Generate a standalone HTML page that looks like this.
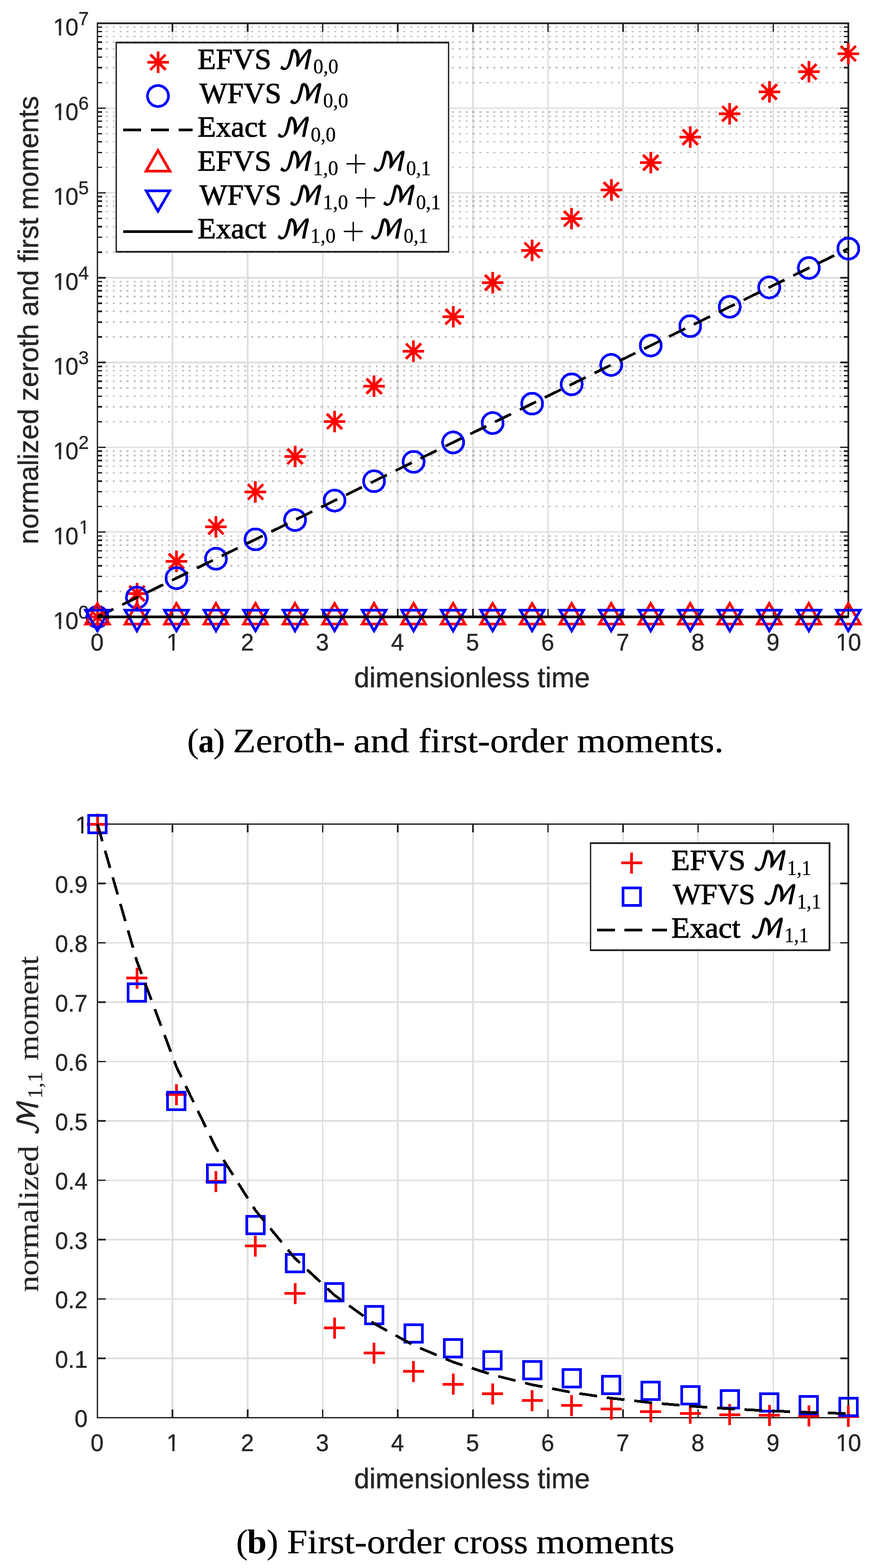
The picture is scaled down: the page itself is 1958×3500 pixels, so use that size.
<!DOCTYPE html>
<html lang="en"><head><meta charset="utf-8"><title>Moments: EFVS vs WFVS</title>
<style>html,body{margin:0;padding:0;background:#fff}body{width:1958px;height:3500px;overflow:hidden}svg{display:block}text{white-space:pre}.tk{font-family:'Liberation Sans', Arial, Helvetica, sans-serif;font-size:52.3px;fill:#262626;stroke:#262626;stroke-width:0.5px}.ex{font-family:'Liberation Sans', Arial, Helvetica, sans-serif;font-size:42px;fill:#262626;stroke:#262626;stroke-width:0.4px}.lb{font-family:'Liberation Sans', Arial, Helvetica, sans-serif;font-size:63px;fill:#262626;stroke:#262626;stroke-width:0.6px}.lg{font-family:'Liberation Serif', 'Times New Roman', Times, serif;font-size:65px;fill:#000;stroke:#000;stroke-width:1.2px}.sb{font-family:'Liberation Serif', 'Times New Roman', Times, serif;font-size:45.5px;fill:#000;stroke:#000;stroke-width:0.4px}.cm{font-family:'DejaVu Math TeX Gyre', 'DejaVu Sans', 'Liberation Serif', serif;fill:#000;stroke:#000;stroke-width:1.2;stroke-linejoin:round}.pl{font-family:'Liberation Serif', 'Times New Roman', Times, serif;fill:#000;stroke:#fff;stroke-width:1.6}.yl{font-family:'Liberation Serif', 'Times New Roman', Times, serif;font-size:63px;fill:#262626;stroke:#262626;stroke-width:0.3px}.ys{font-family:'Liberation Serif', 'Times New Roman', Times, serif;font-size:46.5px;fill:#262626;stroke:#262626;stroke-width:0.3px}.ym{font-family:'DejaVu Math TeX Gyre', 'DejaVu Sans', 'Liberation Serif', serif;fill:#262626;stroke:#262626;stroke-width:0.6;stroke-linejoin:round}.cp{font-family:'Liberation Serif', 'Times New Roman', Times, serif;font-size:77px;fill:#000;stroke:#000;stroke-width:0.4px}.cb{font-family:'Liberation Serif', 'Times New Roman', Times, serif;font-size:77px;font-weight:bold;fill:#000}</style></head><body>
<svg width="1958" height="3500" viewBox="0 0 1958 3500" shape-rendering="crispEdges" role="img" aria-label="Normalized moments versus dimensionless time">
<defs><clipPath id="c1" clipPathUnits="objectBoundingBox"><path d="M0 0H1V0.6H0.6170V0.83H0.4462V0.6H0Z"/></clipPath><clipPath id="c10" clipPathUnits="objectBoundingBox"><path d="M0 0H1V1H0.4955V0.6H0.3175V0.83H0.2298V0.6H0Z"/></clipPath></defs>
<rect width="1958" height="3500" fill="#fff"/>
<g stroke="rgba(38,38,38,0.15)" stroke-width="3.5" fill="none">
<path d="M217.5 52V1377M385.15 52V1377M552.8 52V1377M720.45 52V1377M888.1 52V1377M1055.75 52V1377M1223.4 52V1377M1391.05 52V1377M1558.7 52V1377M1726.35 52V1377M1894 52V1377M217.5 1187.71H1894M217.5 998.43H1894M217.5 809.14H1894M217.5 619.86H1894M217.5 430.57H1894M217.5 241.29H1894"/>
</g>
<g stroke="rgba(38,38,38,0.27)" stroke-width="3.5" fill="none" stroke-dasharray="4.8 10.652" stroke-dashoffset="12.35">
<path d="M217.5 1320.02H1894"/>
<path d="M217.5 1286.69H1894"/>
<path d="M217.5 1263.04H1894"/>
<path d="M217.5 1244.69H1894"/>
<path d="M217.5 1229.71H1894"/>
<path d="M217.5 1217.04H1894"/>
<path d="M217.5 1206.06H1894"/>
<path d="M217.5 1196.38H1894"/>
<path d="M217.5 1130.73H1894"/>
<path d="M217.5 1097.4H1894"/>
<path d="M217.5 1073.75H1894"/>
<path d="M217.5 1055.41H1894"/>
<path d="M217.5 1040.42H1894"/>
<path d="M217.5 1027.75H1894"/>
<path d="M217.5 1016.77H1894"/>
<path d="M217.5 1007.09H1894"/>
<path d="M217.5 941.45H1894"/>
<path d="M217.5 908.12H1894"/>
<path d="M217.5 884.47H1894"/>
<path d="M217.5 866.12H1894"/>
<path d="M217.5 851.14H1894"/>
<path d="M217.5 838.46H1894"/>
<path d="M217.5 827.49H1894"/>
<path d="M217.5 817.8H1894"/>
<path d="M217.5 752.16H1894"/>
<path d="M217.5 718.83H1894"/>
<path d="M217.5 695.18H1894"/>
<path d="M217.5 676.84H1894"/>
<path d="M217.5 661.85H1894"/>
<path d="M217.5 649.18H1894"/>
<path d="M217.5 638.2H1894"/>
<path d="M217.5 628.52H1894"/>
<path d="M217.5 562.88H1894"/>
<path d="M217.5 529.54H1894"/>
<path d="M217.5 505.9H1894"/>
<path d="M217.5 487.55H1894"/>
<path d="M217.5 472.56H1894"/>
<path d="M217.5 459.89H1894"/>
<path d="M217.5 448.92H1894"/>
<path d="M217.5 439.23H1894"/>
<path d="M217.5 373.59H1894"/>
<path d="M217.5 340.26H1894"/>
<path d="M217.5 316.61H1894"/>
<path d="M217.5 298.27H1894"/>
<path d="M217.5 283.28H1894"/>
<path d="M217.5 270.61H1894"/>
<path d="M217.5 259.63H1894"/>
<path d="M217.5 249.95H1894"/>
<path d="M217.5 184.31H1894"/>
<path d="M217.5 150.97H1894"/>
<path d="M217.5 127.32H1894"/>
<path d="M217.5 108.98H1894"/>
<path d="M217.5 93.99H1894"/>
<path d="M217.5 81.32H1894"/>
<path d="M217.5 70.34H1894"/>
<path d="M217.5 60.66H1894"/>
</g>
<g stroke="#262626" stroke-width="3.5" fill="none" stroke-linecap="butt">
<rect x="217.5" y="52" width="1676.5" height="1325"/>
<path d="M385.15 1377v-18.5M385.15 52v18.5M552.8 1377v-18.5M552.8 52v18.5M720.45 1377v-18.5M720.45 52v18.5M888.1 1377v-18.5M888.1 52v18.5M1055.75 1377v-18.5M1055.75 52v18.5M1223.4 1377v-18.5M1223.4 52v18.5M1391.05 1377v-18.5M1391.05 52v18.5M1558.7 1377v-18.5M1558.7 52v18.5M1726.35 1377v-18.5M1726.35 52v18.5M217.5 1187.71h18.5M1894 1187.71h-18.5M217.5 998.43h18.5M1894 998.43h-18.5M217.5 809.14h18.5M1894 809.14h-18.5M217.5 619.86h18.5M1894 619.86h-18.5M217.5 430.57h18.5M1894 430.57h-18.5M217.5 241.29h18.5M1894 241.29h-18.5M217.5 1320.02h10.4M1894 1320.02h-10.4M217.5 1286.69h10.4M1894 1286.69h-10.4M217.5 1263.04h10.4M1894 1263.04h-10.4M217.5 1244.69h10.4M1894 1244.69h-10.4M217.5 1229.71h10.4M1894 1229.71h-10.4M217.5 1217.04h10.4M1894 1217.04h-10.4M217.5 1206.06h10.4M1894 1206.06h-10.4M217.5 1196.38h10.4M1894 1196.38h-10.4M217.5 1130.73h10.4M1894 1130.73h-10.4M217.5 1097.4h10.4M1894 1097.4h-10.4M217.5 1073.75h10.4M1894 1073.75h-10.4M217.5 1055.41h10.4M1894 1055.41h-10.4M217.5 1040.42h10.4M1894 1040.42h-10.4M217.5 1027.75h10.4M1894 1027.75h-10.4M217.5 1016.77h10.4M1894 1016.77h-10.4M217.5 1007.09h10.4M1894 1007.09h-10.4M217.5 941.45h10.4M1894 941.45h-10.4M217.5 908.12h10.4M1894 908.12h-10.4M217.5 884.47h10.4M1894 884.47h-10.4M217.5 866.12h10.4M1894 866.12h-10.4M217.5 851.14h10.4M1894 851.14h-10.4M217.5 838.46h10.4M1894 838.46h-10.4M217.5 827.49h10.4M1894 827.49h-10.4M217.5 817.8h10.4M1894 817.8h-10.4M217.5 752.16h10.4M1894 752.16h-10.4M217.5 718.83h10.4M1894 718.83h-10.4M217.5 695.18h10.4M1894 695.18h-10.4M217.5 676.84h10.4M1894 676.84h-10.4M217.5 661.85h10.4M1894 661.85h-10.4M217.5 649.18h10.4M1894 649.18h-10.4M217.5 638.2h10.4M1894 638.2h-10.4M217.5 628.52h10.4M1894 628.52h-10.4M217.5 562.88h10.4M1894 562.88h-10.4M217.5 529.54h10.4M1894 529.54h-10.4M217.5 505.9h10.4M1894 505.9h-10.4M217.5 487.55h10.4M1894 487.55h-10.4M217.5 472.56h10.4M1894 472.56h-10.4M217.5 459.89h10.4M1894 459.89h-10.4M217.5 448.92h10.4M1894 448.92h-10.4M217.5 439.23h10.4M1894 439.23h-10.4M217.5 373.59h10.4M1894 373.59h-10.4M217.5 340.26h10.4M1894 340.26h-10.4M217.5 316.61h10.4M1894 316.61h-10.4M217.5 298.27h10.4M1894 298.27h-10.4M217.5 283.28h10.4M1894 283.28h-10.4M217.5 270.61h10.4M1894 270.61h-10.4M217.5 259.63h10.4M1894 259.63h-10.4M217.5 249.95h10.4M1894 249.95h-10.4M217.5 184.31h10.4M1894 184.31h-10.4M217.5 150.97h10.4M1894 150.97h-10.4M217.5 127.32h10.4M1894 127.32h-10.4M217.5 108.98h10.4M1894 108.98h-10.4M217.5 93.99h10.4M1894 93.99h-10.4M217.5 81.32h10.4M1894 81.32h-10.4M217.5 70.34h10.4M1894 70.34h-10.4M217.5 60.66h10.4M1894 60.66h-10.4"/>
</g>
<text class="tk" x="202.36" y="1451.6" transform="matrix(1 0 0 1.01 0 -14.52)">0</text>
<text class="tk" x="371.68" y="1451.6" transform="matrix(1 0 0 1.01 0 -14.52)" clip-path="url(#c1)">1</text>
<text class="tk" x="537.66" y="1451.6" transform="matrix(1 0 0 1.01 0 -14.52)">2</text>
<text class="tk" x="705.31" y="1451.6" transform="matrix(1 0 0 1.01 0 -14.52)">3</text>
<text class="tk" x="872.96" y="1451.6" transform="matrix(1 0 0 1.01 0 -14.52)">4</text>
<text class="tk" x="1040.61" y="1451.6" transform="matrix(1 0 0 1.01 0 -14.52)">5</text>
<text class="tk" x="1208.26" y="1451.6" transform="matrix(1 0 0 1.01 0 -14.52)">6</text>
<text class="tk" x="1375.91" y="1451.6" transform="matrix(1 0 0 1.01 0 -14.52)">7</text>
<text class="tk" x="1543.56" y="1451.6" transform="matrix(1 0 0 1.01 0 -14.52)">8</text>
<text class="tk" x="1711.21" y="1451.6" transform="matrix(1 0 0 1.01 0 -14.52)">9</text>
<text class="tk" x="1865.99" y="1451.6" transform="matrix(1 0 0 1.01 0 -14.52)" clip-path="url(#c10)">1<tspan dx="-1.67">0</tspan></text>
<text class="tk" x="118.47" y="1403.8" transform="matrix(1 0 0 1.01 0 -14.04)" clip-path="url(#c10)">1<tspan dx="-1.67">0</tspan></text>
<text class="ex" x="175" y="1380.8" transform="matrix(1 0 0 1.01 0 -13.81)">0</text>
<text class="tk" x="118.47" y="1214.51" transform="matrix(1 0 0 1.01 0 -12.15)" clip-path="url(#c10)">1<tspan dx="-1.67">0</tspan></text>
<text class="ex" x="176.34" y="1191.51" transform="matrix(1 0 0 1.01 0 -11.92)" clip-path="url(#c1)">1</text>
<text class="tk" x="118.47" y="1025.23" transform="matrix(1 0 0 1.01 0 -10.25)" clip-path="url(#c10)">1<tspan dx="-1.67">0</tspan></text>
<text class="ex" x="175" y="1002.23" transform="matrix(1 0 0 1.01 0 -10.02)">2</text>
<text class="tk" x="118.47" y="835.94" transform="matrix(1 0 0 1.01 0 -8.36)" clip-path="url(#c10)">1<tspan dx="-1.67">0</tspan></text>
<text class="ex" x="175" y="812.94" transform="matrix(1 0 0 1.01 0 -8.13)">3</text>
<text class="tk" x="118.47" y="646.66" transform="matrix(1 0 0 1.01 0 -6.47)" clip-path="url(#c10)">1<tspan dx="-1.67">0</tspan></text>
<text class="ex" x="175" y="623.66" transform="matrix(1 0 0 1.01 0 -6.24)">4</text>
<text class="tk" x="118.47" y="457.37" transform="matrix(1 0 0 1.01 0 -4.57)" clip-path="url(#c10)">1<tspan dx="-1.67">0</tspan></text>
<text class="ex" x="175" y="434.37" transform="matrix(1 0 0 1.01 0 -4.34)">5</text>
<text class="tk" x="118.47" y="268.09" transform="matrix(1 0 0 1.01 0 -2.68)" clip-path="url(#c10)">1<tspan dx="-1.67">0</tspan></text>
<text class="ex" x="175" y="245.09" transform="matrix(1 0 0 1.01 0 -2.45)">6</text>
<text class="tk" x="118.47" y="78.8" transform="matrix(1 0 0 1.01 0 -0.79)" clip-path="url(#c10)">1<tspan dx="-1.67">0</tspan></text>
<text class="ex" x="175" y="55.8" transform="matrix(1 0 0 1.01 0 -0.56)">7</text>
<text class="lb" x="790.42" y="1534" textLength="526.67" lengthAdjust="spacingAndGlyphs">dimensionless time</text>
<g transform="translate(85.1 1211) rotate(-90)"><text class="lb" x="-4.02" y="0" textLength="1000.7" lengthAdjust="spacingAndGlyphs">normalized zeroth and first moments</text></g>
<g fill="none" stroke-width="6.0">
<g stroke="#ff0000">
<path d="M193.5 1377H241.5M217.5 1353V1401M200.53 1360.03L234.47 1393.97M200.53 1393.97L234.47 1360.03"/>
<path d="M281.74 1324.6H329.74M305.74 1300.6V1348.6M288.77 1307.63L322.71 1341.57M288.77 1341.57L322.71 1307.63"/>
<path d="M369.97 1252.9H417.97M393.97 1228.9V1276.9M377 1235.93L410.94 1269.87M377 1269.87L410.94 1235.93"/>
<path d="M458.21 1175.8H506.21M482.21 1151.8V1199.8M465.24 1158.83L499.18 1192.77M465.24 1192.77L499.18 1158.83"/>
<path d="M546.45 1098H594.45M570.45 1074V1122M553.48 1081.03L587.42 1114.97M553.48 1114.97L587.42 1081.03"/>
<path d="M634.68 1018.9H682.68M658.68 994.9V1042.9M641.71 1001.93L675.65 1035.87M641.71 1035.87L675.65 1001.93"/>
<path d="M722.92 940.8H770.92M746.92 916.8V964.8M729.95 923.83L763.89 957.77M729.95 957.77L763.89 923.83"/>
<path d="M811.16 862.05H859.16M835.16 838.05V886.05M818.19 845.08L852.13 879.02M818.19 879.02L852.13 845.08"/>
<path d="M899.39 783.85H947.39M923.39 759.85V807.85M906.42 766.88L940.37 800.82M906.42 800.82L940.37 766.88"/>
<path d="M987.63 706.7H1035.63M1011.63 682.7V730.7M994.66 689.73L1028.6 723.67M994.66 723.67L1028.6 689.73"/>
<path d="M1075.87 631H1123.87M1099.87 607V655M1082.9 614.03L1116.84 647.97M1082.9 647.97L1116.84 614.03"/>
<path d="M1164.11 558.6H1212.11M1188.11 534.6V582.6M1171.13 541.63L1205.08 575.57M1171.13 575.57L1205.08 541.63"/>
<path d="M1252.34 488.3H1300.34M1276.34 464.3V512.3M1259.37 471.33L1293.31 505.27M1259.37 505.27L1293.31 471.33"/>
<path d="M1340.58 423.8H1388.58M1364.58 399.8V447.8M1347.61 406.83L1381.55 440.77M1347.61 440.77L1381.55 406.83"/>
<path d="M1428.82 363H1476.82M1452.82 339V387M1435.85 346.03L1469.79 379.97M1435.85 379.97L1469.79 346.03"/>
<path d="M1517.05 306.15H1565.05M1541.05 282.15V330.15M1524.08 289.18L1558.02 323.12M1524.08 323.12L1558.02 289.18"/>
<path d="M1605.29 253.7H1653.29M1629.29 229.7V277.7M1612.32 236.73L1646.26 270.67M1612.32 270.67L1646.26 236.73"/>
<path d="M1693.53 205.3H1741.53M1717.53 181.3V229.3M1700.56 188.33L1734.5 222.27M1700.56 222.27L1734.5 188.33"/>
<path d="M1781.76 160.4H1829.76M1805.76 136.4V184.4M1788.79 143.43L1822.73 177.37M1788.79 177.37L1822.73 143.43"/>
<path d="M1870 119.6H1918M1894 95.6V143.6M1877.03 102.63L1910.97 136.57M1877.03 136.57L1910.97 102.63"/>
</g>
<g stroke="#0000ff">
<circle cx="217.5" cy="1377" r="23.4"/>
<circle cx="305.74" cy="1333.73" r="23.4"/>
<circle cx="393.97" cy="1290.47" r="23.4"/>
<circle cx="482.21" cy="1247.2" r="23.4"/>
<circle cx="570.45" cy="1203.94" r="23.4"/>
<circle cx="658.68" cy="1160.67" r="23.4"/>
<circle cx="746.92" cy="1117.4" r="23.4"/>
<circle cx="835.16" cy="1074.14" r="23.4"/>
<circle cx="923.39" cy="1030.87" r="23.4"/>
<circle cx="1011.63" cy="987.6" r="23.4"/>
<circle cx="1099.87" cy="944.34" r="23.4"/>
<circle cx="1188.11" cy="901.07" r="23.4"/>
<circle cx="1276.34" cy="857.81" r="23.4"/>
<circle cx="1364.58" cy="814.54" r="23.4"/>
<circle cx="1452.82" cy="771.27" r="23.4"/>
<circle cx="1541.05" cy="728.01" r="23.4"/>
<circle cx="1629.29" cy="684.74" r="23.4"/>
<circle cx="1717.53" cy="641.47" r="23.4"/>
<circle cx="1805.76" cy="598.21" r="23.4"/>
<circle cx="1894" cy="554.94" r="23.4"/>
</g>
<path stroke="#000" stroke-dasharray="40 21.8" d="M217.5 1377L1894 554.94"/>
<g stroke="#ff0000" stroke-linejoin="miter">
<path d="M217.5 1346.9L244 1392.8L191 1392.8Z"/>
<path d="M305.74 1346.9L332.24 1392.8L279.24 1392.8Z"/>
<path d="M393.97 1346.9L420.47 1392.8L367.47 1392.8Z"/>
<path d="M482.21 1346.9L508.71 1392.8L455.71 1392.8Z"/>
<path d="M570.45 1346.9L596.95 1392.8L543.95 1392.8Z"/>
<path d="M658.68 1346.9L685.18 1392.8L632.18 1392.8Z"/>
<path d="M746.92 1346.9L773.42 1392.8L720.42 1392.8Z"/>
<path d="M835.16 1346.9L861.66 1392.8L808.66 1392.8Z"/>
<path d="M923.39 1346.9L949.9 1392.8L896.89 1392.8Z"/>
<path d="M1011.63 1346.9L1038.13 1392.8L985.13 1392.8Z"/>
<path d="M1099.87 1346.9L1126.37 1392.8L1073.37 1392.8Z"/>
<path d="M1188.11 1346.9L1214.61 1392.8L1161.6 1392.8Z"/>
<path d="M1276.34 1346.9L1302.84 1392.8L1249.84 1392.8Z"/>
<path d="M1364.58 1346.9L1391.08 1392.8L1338.08 1392.8Z"/>
<path d="M1452.82 1346.9L1479.32 1392.8L1426.32 1392.8Z"/>
<path d="M1541.05 1346.9L1567.55 1392.8L1514.55 1392.8Z"/>
<path d="M1629.29 1346.9L1655.79 1392.8L1602.79 1392.8Z"/>
<path d="M1717.53 1346.9L1744.03 1392.8L1691.03 1392.8Z"/>
<path d="M1805.76 1346.9L1832.26 1392.8L1779.26 1392.8Z"/>
<path d="M1894 1346.9L1920.5 1392.8L1867.5 1392.8Z"/>
</g>
<g stroke="#0000ff" stroke-linejoin="miter">
<path d="M217.5 1408.1L244 1362.2L191 1362.2Z"/>
<path d="M305.74 1408.1L332.24 1362.2L279.24 1362.2Z"/>
<path d="M393.97 1408.1L420.47 1362.2L367.47 1362.2Z"/>
<path d="M482.21 1408.1L508.71 1362.2L455.71 1362.2Z"/>
<path d="M570.45 1408.1L596.95 1362.2L543.95 1362.2Z"/>
<path d="M658.68 1408.1L685.18 1362.2L632.18 1362.2Z"/>
<path d="M746.92 1408.1L773.42 1362.2L720.42 1362.2Z"/>
<path d="M835.16 1408.1L861.66 1362.2L808.66 1362.2Z"/>
<path d="M923.39 1408.1L949.9 1362.2L896.89 1362.2Z"/>
<path d="M1011.63 1408.1L1038.13 1362.2L985.13 1362.2Z"/>
<path d="M1099.87 1408.1L1126.37 1362.2L1073.37 1362.2Z"/>
<path d="M1188.11 1408.1L1214.61 1362.2L1161.6 1362.2Z"/>
<path d="M1276.34 1408.1L1302.84 1362.2L1249.84 1362.2Z"/>
<path d="M1364.58 1408.1L1391.08 1362.2L1338.08 1362.2Z"/>
<path d="M1452.82 1408.1L1479.32 1362.2L1426.32 1362.2Z"/>
<path d="M1541.05 1408.1L1567.55 1362.2L1514.55 1362.2Z"/>
<path d="M1629.29 1408.1L1655.79 1362.2L1602.79 1362.2Z"/>
<path d="M1717.53 1408.1L1744.03 1362.2L1691.03 1362.2Z"/>
<path d="M1805.76 1408.1L1832.26 1362.2L1779.26 1362.2Z"/>
<path d="M1894 1408.1L1920.5 1362.2L1867.5 1362.2Z"/>
</g>
<path stroke="#000" d="M217 1377H1894"/>
</g>
<rect x="259.7" y="95" width="741.8" height="467" fill="#fff" stroke="#262626" stroke-width="3.5"/>
<g fill="none" stroke-width="6.0">
<g stroke="#ff0000"><path d="M328.7 138.8H376.7M352.7 114.8V162.8M335.73 121.83L369.67 155.77M335.73 155.77L369.67 121.83"/><path d="M352.7 335.82L379.2 381.72L326.2 381.72Z"/></g>
<g stroke="#0000ff"><circle cx="352.7" cy="214.34" r="23.4"/><path d="M352.7 471.56L379.2 425.66L326.2 425.66Z"/></g>
<path stroke="#000" stroke-dasharray="40 21.8" d="M275 289.88H430.4"/>
<path stroke="#000" d="M275 516.5H430.4"/>
</g>
<text class="lg" x="440.98" y="154.2" textLength="164.68" lengthAdjust="spacingAndGlyphs">EFVS</text>
<text class="cm" transform="translate(621.59 154.2) scale(1.0603 1)" font-size="57.86">&#x2133;</text>
<text class="sb" x="699.51" y="164.4" textLength="55.88" lengthAdjust="spacingAndGlyphs">0,0</text>
<text class="lg" x="445.5" y="229.8" textLength="182.47" lengthAdjust="spacingAndGlyphs">WFVS</text>
<text class="cm" transform="translate(643.59 229.8) scale(1.0603 1)" font-size="57.86">&#x2133;</text>
<text class="sb" x="721.51" y="240" textLength="55.88" lengthAdjust="spacingAndGlyphs">0,0</text>
<text class="lg" x="440.98" y="305.4" textLength="153.45" lengthAdjust="spacingAndGlyphs">Exact</text>
<text class="cm" transform="translate(615.79 305.4) scale(1.0603 1)" font-size="57.86">&#x2133;</text>
<text class="sb" x="693.71" y="315.6" textLength="55.88" lengthAdjust="spacingAndGlyphs">0,0</text>
<text class="lg" x="440.98" y="381" textLength="164.68" lengthAdjust="spacingAndGlyphs">EFVS</text>
<text class="cm" transform="translate(621.59 381) scale(1.0603 1)" font-size="57.86">&#x2133;</text>
<text class="sb" x="698.63" y="391.2" textLength="56.47" lengthAdjust="spacingAndGlyphs">1,0</text>
<text class="pl" x="767.87" y="396.96" font-size="94.62">+</text>
<text class="cm" transform="translate(829.49 381) scale(1.0603 1)" font-size="57.86">&#x2133;</text>
<text class="sb" x="907.05" y="391.2" textLength="54.78" lengthAdjust="spacingAndGlyphs">0,1</text>
<text class="lg" x="445.5" y="456.6" textLength="182.47" lengthAdjust="spacingAndGlyphs">WFVS</text>
<text class="cm" transform="translate(643.59 456.6) scale(1.0603 1)" font-size="57.86">&#x2133;</text>
<text class="sb" x="720.63" y="466.8" textLength="56.47" lengthAdjust="spacingAndGlyphs">1,0</text>
<text class="pl" x="789.87" y="472.56" font-size="94.62">+</text>
<text class="cm" transform="translate(851.49 456.6) scale(1.0603 1)" font-size="57.86">&#x2133;</text>
<text class="sb" x="929.05" y="466.8" textLength="54.78" lengthAdjust="spacingAndGlyphs">0,1</text>
<text class="lg" x="440.98" y="532.2" textLength="153.45" lengthAdjust="spacingAndGlyphs">Exact</text>
<text class="cm" transform="translate(615.79 532.2) scale(1.0603 1)" font-size="57.86">&#x2133;</text>
<text class="sb" x="692.83" y="542.4" textLength="56.47" lengthAdjust="spacingAndGlyphs">1,0</text>
<text class="pl" x="762.07" y="548.16" font-size="94.62">+</text>
<text class="cm" transform="translate(823.69 532.2) scale(1.0603 1)" font-size="57.86">&#x2133;</text>
<text class="sb" x="901.25" y="542.4" textLength="54.78" lengthAdjust="spacingAndGlyphs">0,1</text>
<text class="cp" x="417.94" y="1678.7">(</text>
<text class="cb" x="442.68" y="1678.7" textLength="35.38" lengthAdjust="spacingAndGlyphs">a</text>
<text class="cp" x="476.57" y="1678.7">)</text>
<text class="cp" x="520.12" y="1678.7" textLength="250.6" lengthAdjust="spacingAndGlyphs">Zeroth-</text>
<text class="cp" x="788.98" y="1678.7" textLength="124.62" lengthAdjust="spacingAndGlyphs">and</text>
<text class="cp" x="934.23" y="1678.7" textLength="333.59" lengthAdjust="spacingAndGlyphs">first-order</text>
<text class="cp" x="1288.33" y="1678.7" textLength="327.23" lengthAdjust="spacingAndGlyphs">moments.</text>
<g stroke="rgba(38,38,38,0.15)" stroke-width="3.5" fill="none">
<path d="M217.5 1839.4V3164.3M385.15 1839.4V3164.3M552.8 1839.4V3164.3M720.45 1839.4V3164.3M888.1 1839.4V3164.3M1055.75 1839.4V3164.3M1223.4 1839.4V3164.3M1391.05 1839.4V3164.3M1558.7 1839.4V3164.3M1726.35 1839.4V3164.3M1894 1839.4V3164.3M217.5 3031.81H1894M217.5 2899.32H1894M217.5 2766.83H1894M217.5 2634.34H1894M217.5 2501.85H1894M217.5 2369.36H1894M217.5 2236.87H1894M217.5 2104.38H1894M217.5 1971.89H1894"/>
</g>
<g stroke="#262626" stroke-width="3.5" fill="none" stroke-linecap="butt">
<rect x="217.5" y="1839.4" width="1676.5" height="1324.9"/>
<path d="M385.15 3164.3v-18.5M385.15 1839.4v18.5M552.8 3164.3v-18.5M552.8 1839.4v18.5M720.45 3164.3v-18.5M720.45 1839.4v18.5M888.1 3164.3v-18.5M888.1 1839.4v18.5M1055.75 3164.3v-18.5M1055.75 1839.4v18.5M1223.4 3164.3v-18.5M1223.4 1839.4v18.5M1391.05 3164.3v-18.5M1391.05 1839.4v18.5M1558.7 3164.3v-18.5M1558.7 1839.4v18.5M1726.35 3164.3v-18.5M1726.35 1839.4v18.5M217.5 3031.81h18.5M1894 3031.81h-18.5M217.5 2899.32h18.5M1894 2899.32h-18.5M217.5 2766.83h18.5M1894 2766.83h-18.5M217.5 2634.34h18.5M1894 2634.34h-18.5M217.5 2501.85h18.5M1894 2501.85h-18.5M217.5 2369.36h18.5M1894 2369.36h-18.5M217.5 2236.87h18.5M1894 2236.87h-18.5M217.5 2104.38h18.5M1894 2104.38h-18.5M217.5 1971.89h18.5M1894 1971.89h-18.5"/>
</g>
<text class="tk" x="202.36" y="3238.6" transform="matrix(1 0 0 1.01 0 -32.39)">0</text>
<text class="tk" x="371.68" y="3238.6" transform="matrix(1 0 0 1.01 0 -32.39)" clip-path="url(#c1)">1</text>
<text class="tk" x="537.66" y="3238.6" transform="matrix(1 0 0 1.01 0 -32.39)">2</text>
<text class="tk" x="705.31" y="3238.6" transform="matrix(1 0 0 1.01 0 -32.39)">3</text>
<text class="tk" x="872.96" y="3238.6" transform="matrix(1 0 0 1.01 0 -32.39)">4</text>
<text class="tk" x="1040.61" y="3238.6" transform="matrix(1 0 0 1.01 0 -32.39)">5</text>
<text class="tk" x="1208.26" y="3238.6" transform="matrix(1 0 0 1.01 0 -32.39)">6</text>
<text class="tk" x="1375.91" y="3238.6" transform="matrix(1 0 0 1.01 0 -32.39)">7</text>
<text class="tk" x="1543.56" y="3238.6" transform="matrix(1 0 0 1.01 0 -32.39)">8</text>
<text class="tk" x="1711.21" y="3238.6" transform="matrix(1 0 0 1.01 0 -32.39)">9</text>
<text class="tk" x="1865.99" y="3238.6" transform="matrix(1 0 0 1.01 0 -32.39)" clip-path="url(#c10)">1<tspan dx="-1.67">0</tspan></text>
<text class="tk" x="166.61" y="3185.2" transform="matrix(1 0 0 1.01 0 -31.85)">0</text>
<text class="tk" x="123" y="3052.71" transform="matrix(1 0 0 1.01 0 -30.53)">0.1</text>
<text class="tk" x="123" y="2920.22" transform="matrix(1 0 0 1.01 0 -29.2)">0.2</text>
<text class="tk" x="123" y="2787.73" transform="matrix(1 0 0 1.01 0 -27.88)">0.3</text>
<text class="tk" x="123" y="2655.24" transform="matrix(1 0 0 1.01 0 -26.55)">0.4</text>
<text class="tk" x="123" y="2522.75" transform="matrix(1 0 0 1.01 0 -25.23)">0.5</text>
<text class="tk" x="123" y="2390.26" transform="matrix(1 0 0 1.01 0 -23.9)">0.6</text>
<text class="tk" x="123" y="2257.77" transform="matrix(1 0 0 1.01 0 -22.58)">0.7</text>
<text class="tk" x="123" y="2125.28" transform="matrix(1 0 0 1.01 0 -21.25)">0.8</text>
<text class="tk" x="123" y="1992.79" transform="matrix(1 0 0 1.01 0 -19.93)">0.9</text>
<text class="tk" x="168.29" y="1860.3" transform="matrix(1 0 0 1.01 0 -18.6)" clip-path="url(#c1)">1</text>
<text class="lb" x="790.42" y="3321.6" textLength="526.67" lengthAdjust="spacingAndGlyphs">dimensionless time</text>
<g transform="translate(84.6 2881.9) rotate(-90)"><text class="yl" x="-1.81" y="0" textLength="326.47" lengthAdjust="spacingAndGlyphs">normalized</text><text class="ym" transform="translate(345.87 0) scale(1.0262 1)" font-size="63.65">&#x2133;</text><text class="ys" x="429.57" y="9.5" textLength="60.11" lengthAdjust="spacingAndGlyphs">1,1</text><text class="yl" x="515.48" y="0" textLength="232.14" lengthAdjust="spacingAndGlyphs">moment</text></g>
<g fill="none" stroke-width="6.0">
<g stroke="#ff0000">
<path d="M194 1839.5H241M217.5 1816V1863"/>
<path d="M282.24 2183H329.24M305.74 2159.5V2206.5"/>
<path d="M370.47 2443.1H417.47M393.97 2419.6V2466.6"/>
<path d="M458.71 2637.2H505.71M482.21 2613.7V2660.7"/>
<path d="M546.95 2781.2H593.95M570.45 2757.7V2804.7"/>
<path d="M635.18 2887.1H682.18M658.68 2863.6V2910.6"/>
<path d="M723.42 2964H770.42M746.92 2940.5V2987.5"/>
<path d="M811.66 3020.1H858.66M835.16 2996.6V3043.6"/>
<path d="M899.89 3061H946.89M923.39 3037.5V3084.5"/>
<path d="M988.13 3089.9H1035.13M1011.63 3066.4V3113.4"/>
<path d="M1076.37 3111H1123.37M1099.87 3087.5V3134.5"/>
<path d="M1164.61 3126H1211.61M1188.11 3102.5V3149.5"/>
<path d="M1252.84 3137.1H1299.84M1276.34 3113.6V3160.6"/>
<path d="M1341.08 3145.1H1388.08M1364.58 3121.6V3168.6"/>
<path d="M1429.32 3151.3H1476.32M1452.82 3127.8V3174.8"/>
<path d="M1517.55 3154.9H1564.55M1541.05 3131.4V3178.4"/>
<path d="M1605.79 3157.6H1652.79M1629.29 3134.1V3181.1"/>
<path d="M1694.03 3159.3H1741.03M1717.53 3135.8V3182.8"/>
<path d="M1782.26 3160.7H1829.26M1805.76 3137.2V3184.2"/>
<path d="M1870.5 3161.8H1917.5M1894 3138.3V3185.3"/>
</g>
<g stroke="#0000ff">
<rect x="198" y="1820" width="39" height="39"/>
<rect x="286.24" y="2196.1" width="39" height="39"/>
<rect x="374.47" y="2437.7" width="39" height="39"/>
<rect x="462.71" y="2599.9" width="39" height="39"/>
<rect x="550.95" y="2715.1" width="39" height="39"/>
<rect x="639.18" y="2800.1" width="39" height="39"/>
<rect x="727.42" y="2864.9" width="39" height="39"/>
<rect x="815.66" y="2916.1" width="39" height="39"/>
<rect x="903.89" y="2957.1" width="39" height="39"/>
<rect x="992.13" y="2990" width="39" height="39"/>
<rect x="1080.37" y="3017.1" width="39" height="39"/>
<rect x="1168.61" y="3039.15" width="39" height="39"/>
<rect x="1256.84" y="3057.1" width="39" height="39"/>
<rect x="1345.08" y="3072.1" width="39" height="39"/>
<rect x="1433.32" y="3085" width="39" height="39"/>
<rect x="1521.55" y="3095.25" width="39" height="39"/>
<rect x="1609.79" y="3103.6" width="39" height="39"/>
<rect x="1698.03" y="3110.9" width="39" height="39"/>
<rect x="1786.26" y="3116.8" width="39" height="39"/>
<rect x="1874.5" y="3121.1" width="39" height="39"/>
</g>
<path stroke="#000" stroke-dasharray="40 21.8" d="M217.5 1839.4L305.74 2145.95L393.97 2381.58L482.21 2562.68L570.45 2701.89L658.68 2808.88L746.92 2891.12L835.16 2954.33L923.39 3002.91L1011.63 3040.25L1099.87 3068.95L1188.11 3091.02L1276.34 3107.97L1364.58 3121L1452.82 3131.02L1541.05 3138.72L1629.29 3144.64L1717.53 3149.19L1805.76 3152.69L1894 3155.37"/>
</g>
<rect x="1318.6" y="1882" width="533.2" height="239" fill="#fff" stroke="#262626" stroke-width="3.5"/>
<g fill="none" stroke-width="6.0">
<g stroke="#ff0000"><path d="M1386.9 1926H1433.9M1410.4 1902.5V1949.5"/></g>
<g stroke="#0000ff"><rect x="1390.9" y="1981.8" width="39" height="39"/></g>
<path stroke="#000" stroke-dasharray="40 21.8" d="M1332.5 2075.8H1488.7"/>
</g>
<text class="lg" x="1498.77" y="1942.3" textLength="165.72" lengthAdjust="spacingAndGlyphs">EFVS</text>
<text class="cm" transform="translate(1680.09 1942.3) scale(1.0603 1)" font-size="57.86">&#x2133;</text>
<text class="sb" x="1757.31" y="1952.5" textLength="54.09" lengthAdjust="spacingAndGlyphs">1,1</text>
<text class="lg" x="1502.6" y="2017.5" textLength="183.28" lengthAdjust="spacingAndGlyphs">WFVS</text>
<text class="cm" transform="translate(1701.99 2017.5) scale(1.0603 1)" font-size="57.86">&#x2133;</text>
<text class="sb" x="1779.21" y="2027.7" textLength="54.09" lengthAdjust="spacingAndGlyphs">1,1</text>
<text class="lg" x="1498.77" y="2092.7" textLength="154.27" lengthAdjust="spacingAndGlyphs">Exact</text>
<text class="cm" transform="translate(1673.99 2092.7) scale(1.0603 1)" font-size="57.86">&#x2133;</text>
<text class="sb" x="1751.21" y="2102.9" textLength="54.09" lengthAdjust="spacingAndGlyphs">1,1</text>
<text class="cp" x="527.33" y="3466.6">(</text>
<text class="cb" x="551.52" y="3466.6" textLength="43.94" lengthAdjust="spacingAndGlyphs">b</text>
<text class="cp" x="595.47" y="3466.6">)</text>
<text class="cp" x="640.73" y="3466.6" textLength="352.44" lengthAdjust="spacingAndGlyphs">First-order</text>
<text class="cp" x="1012.26" y="3466.6" textLength="166.4" lengthAdjust="spacingAndGlyphs">cross</text>
<text class="cp" x="1197.22" y="3466.6" textLength="308.86" lengthAdjust="spacingAndGlyphs">moments</text>
</svg></body></html>
